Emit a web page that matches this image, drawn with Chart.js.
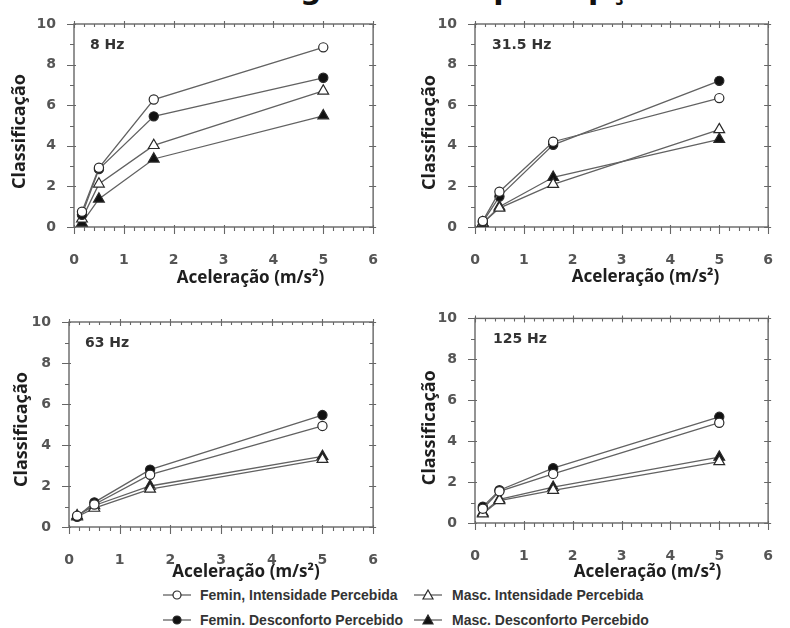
<!DOCTYPE html>
<html lang="pt">
<head>
<meta charset="utf-8">
<script src="https://cdn.jsdelivr.net/npm/chart.js@4/dist/chart.umd.min.js"></script>
<style>
  html, body { margin: 0; padding: 0; background: #fff; }
  body { width: 790px; height: 628px; position: relative; overflow: hidden; }
  .painel { position: absolute; }
  .painel canvas { display: block; }
  #titulo { position: absolute; left: 250px; top: -26px; font: bold 30px "DejaVu Sans"; line-height: 30px; color: #111; white-space: nowrap; }
  .leg { position: absolute; height: 16px; font: bold 14px "Liberation Sans"; line-height: 16px; color: #333; white-space: nowrap; }
  .leg svg { position: absolute; top: 2px; }
  .leg span { position: absolute; top: 0; }
</style>
</head>
<body>
<div id="titulo">Magnitude da percepção</div>

<div class="painel" style="left:0;top:0"><canvas id="p8" width="395" height="300"></canvas></div>
<div class="painel" style="left:395px;top:0"><canvas id="p31" width="395" height="300"></canvas></div>
<div class="painel" style="left:0;top:300px"><canvas id="p63" width="395" height="285"></canvas></div>
<div class="painel" style="left:395px;top:300px"><canvas id="p125" width="395" height="285"></canvas></div>

<div id="legenda"></div>

<script>
// Níveis de aceleração (m/s²)
const aceleracao = [0.16, 0.5, 1.6, 5];

// Rótulos dos quatro painéis
const frequencias = ['8 Hz', '31.5 Hz', '63 Hz', '125 Hz'];

// Nomes das séries
const nomesSeries = [
  'Femin, Intensidade Percebida',
  'Femin. Desconforto Percebido',
  'Masc. Intensidade Percebida',
  'Masc. Desconforto Percebido'
];

// Eixos
const eixoX = { min: 0, max: 6, passo: 1 };
const eixoY = { min: 0, max: 10, passo: 2 };
const tituloX = 'Aceleração (m/s²)';
const tituloY = 'Classificação';

// 8 Hz
const femIntens8  = [0.75, 2.92, 6.28, 8.85];
const femDesc8    = [0.60, 2.85, 5.45, 7.35];
const mascIntens8 = [0.40, 2.12, 4.02, 6.70];
const mascDesc8   = [0.20, 1.38, 3.35, 5.48];

// 31.5 Hz
const femIntens31  = [0.30, 1.74, 4.20, 6.35];
const femDesc31    = [0.25, 1.50, 4.05, 7.20];
const mascIntens31 = [0.20, 0.93, 2.10, 4.80];
const mascDesc31   = [0.20, 1.00, 2.45, 4.32];

// 63 Hz
const femIntens63  = [0.55, 1.10, 2.55, 4.93];
const femDesc63    = [0.50, 1.20, 2.80, 5.46];
const mascIntens63 = [0.50, 0.92, 1.85, 3.30];
const mascDesc63   = [0.55, 1.05, 2.00, 3.45];

// 125 Hz
const femIntens125  = [0.70, 1.55, 2.40, 4.90];
const femDesc125    = [0.80, 1.60, 2.68, 5.19];
const mascIntens125 = [0.45, 1.10, 1.60, 3.00];
const mascDesc125   = [0.50, 1.15, 1.75, 3.22];

const COR_LINHA = '#626262';
const COR_MARCA = '#2a2a2a';
const estilos = [
  { pointStyle: 'circle',   pointRadius: 4.6, pointBackgroundColor: '#ffffff' },
  { pointStyle: 'circle',   pointRadius: 4.6, pointBackgroundColor: '#111111' },
  { pointStyle: 'triangle', pointRadius: 6.2, pointBackgroundColor: '#ffffff' },
  { pointStyle: 'triangle', pointRadius: 6.2, pointBackgroundColor: '#111111' }
];

// Moldura com marcas de escala, títulos dos eixos e rótulo da frequência
const molduraPlugin = {
  id: 'moldura',
  beforeDatasetsDraw(chart, args, opts) {
    const { ctx, chartArea: a, scales: { x, y } } = chart;
    ctx.save();
    ctx.strokeStyle = '#666';
    ctx.lineWidth = 1.4;
    ctx.strokeRect(a.left, a.top, a.right - a.left, a.bottom - a.top);

    ctx.lineWidth = 1.1;
    ctx.beginPath();
    for (let i = 0; i <= 30; i++) {
      const px = Math.round(x.getPixelForValue(i / 5)) + 0.5;
      const maior = i % 5 === 0;
      ctx.moveTo(px, a.bottom - (maior ? 2 : 0));
      ctx.lineTo(px, a.bottom + (maior ? 7 : 4));
      ctx.moveTo(px, a.top - (maior ? 3 : 0));
      ctx.lineTo(px, a.top + (maior ? 4 : 3));
    }
    for (let v = eixoY.min; v <= eixoY.max; v++) {
      const py = Math.round(y.getPixelForValue(v)) + 0.5;
      const maior = v % 2 === 0;
      ctx.moveTo(a.left - (maior ? 7 : 4), py);
      ctx.lineTo(a.left + (maior ? 2 : 0), py);
      ctx.moveTo(a.right - (maior ? 4 : 3), py);
      ctx.lineTo(a.right + (maior ? 3 : 0), py);
    }
    ctx.stroke();

    // rótulo da frequência
    ctx.fillStyle = '#333';
    ctx.font = 'bold 14px "DejaVu Sans"';
    ctx.textAlign = 'left';
    ctx.textBaseline = 'middle';
    ctx.fillText(opts.rotulo, a.left + opts.rotuloDx, a.top + 21);

    // títulos dos eixos
    ctx.fillStyle = '#1e1e1e';
    ctx.textAlign = 'center';
    ctx.font = 'bold 17px "Noto Sans"';
    ctx.fillText(tituloX, (a.left + a.right) / 2 + opts.xDx, a.bottom + opts.xDy);

    ctx.save();
    ctx.translate(a.left + opts.yDx, (a.top + a.bottom) / 2 + opts.yDy);
    ctx.rotate(-Math.PI / 2);
    ctx.font = 'bold 18px "Noto Sans"';
    ctx.fillText(tituloY, 0, 0);
    ctx.restore();

    ctx.restore();
  }
};

const fonteTicks = { family: 'DejaVu Sans', weight: 'bold', size: 14 };

function criaPainel(id, rotulo, series, esp) {
  new Chart(document.getElementById(id), {
    type: 'line',
    data: {
      datasets: series.map((valores, i) => ({
        label: nomesSeries[i],
        data: aceleracao.map((ac, k) => ({ x: ac, y: valores[k] })),
        borderColor: COR_LINHA,
        borderWidth: 1.3,
        tension: 0,
        fill: false,
        pointBorderColor: COR_MARCA,
        pointBorderWidth: 1.2,
        pointHoverRadius: estilos[i].pointRadius,
        ...estilos[i]
      }))
    },
    options: {
      responsive: false,
      animation: false,
      events: [],
      layout: { padding: { left: 0, top: esp.top, right: esp.right, bottom: 0 } },
      scales: {
        x: {
          type: 'linear', min: eixoX.min, max: eixoX.max,
          ticks: { stepSize: eixoX.passo, padding: 17, color: '#555', font: fonteTicks, maxRotation: 0, autoSkip: false },
          grid: { display: false },
          border: { display: false },
          afterFit(s) { s.height = esp.bottom; }
        },
        y: {
          type: 'linear', min: eixoY.min, max: eixoY.max,
          ticks: { stepSize: eixoY.passo, padding: 10, color: '#555', font: fonteTicks },
          grid: { display: false },
          border: { display: false },
          afterFit(s) { s.width = esp.left; }
        }
      },
      plugins: {
        legend: { display: false },
        tooltip: { enabled: false },
        moldura: { rotulo, rotuloDx: esp.rotuloDx, xDx: esp.xDx, xDy: esp.xDy, yDx: esp.yDx, yDy: esp.yDy }
      }
    },
    plugins: [molduraPlugin]
  });
}

criaPainel('p8', frequencias[0], [femIntens8, femDesc8, mascIntens8, mascDesc8],
  { left: 74, top: 24, right: 13, bottom: 73, rotuloDx: 16, xDx: 27, xDy: 51, yDx: -54, yDy: 6 });
criaPainel('p31', frequencias[1], [femIntens31, femDesc31, mascIntens31, mascDesc31],
  { left: 80, top: 24, right: 7, bottom: 73, rotuloDx: 17, xDx: 24, xDy: 50, yDx: -45, yDy: 7 });
criaPainel('p63', frequencias[2], [femIntens63, femDesc63, mascIntens63, mascDesc63],
  { left: 69, top: 22, right: 17, bottom: 58, rotuloDx: 16, xDx: 25, xDy: 45, yDx: -47, yDy: 5 });
criaPainel('p125', frequencias[3], [femIntens125, femDesc125, mascIntens125, mascDesc125],
  { left: 80, top: 17, right: 6, bottom: 62, rotuloDx: 18, xDx: 26, xDy: 49, yDx: -45, yDy: 7 });

// Legenda comum, em duas colunas
const posLegenda = [
  { x: 163, y: 595, texto: 200 },
  { x: 163, y: 620, texto: 200 },
  { x: 414, y: 595, texto: 452 },
  { x: 414, y: 620, texto: 452 }
];
const legenda = document.getElementById('legenda');
nomesSeries.forEach((nome, i) => {
  const p = posLegenda[i];
  const e = estilos[i];
  let marca;
  if (e.pointStyle === 'circle') {
    marca = `<circle cx="14" cy="6" r="4" fill="${e.pointBackgroundColor}" stroke="${COR_MARCA}" stroke-width="1.2"/>`;
  } else {
    marca = `<polygon points="14,1 19,10 9,10" fill="${e.pointBackgroundColor}" stroke="${COR_MARCA}" stroke-width="1.2"/>`;
  }
  const div = document.createElement('div');
  div.className = 'leg';
  div.style.left = p.x + 'px';
  div.style.top = (p.y - 8) + 'px';
  div.innerHTML =
    `<svg width="28" height="12" style="left:0"><line x1="0" y1="6" x2="28" y2="6" stroke="${COR_LINHA}" stroke-width="1.3"/>${marca}</svg>` +
    `<span style="left:${p.texto - p.x}px">${nome}</span>`;
  legenda.appendChild(div);
});
</script>
</body>
</html>
